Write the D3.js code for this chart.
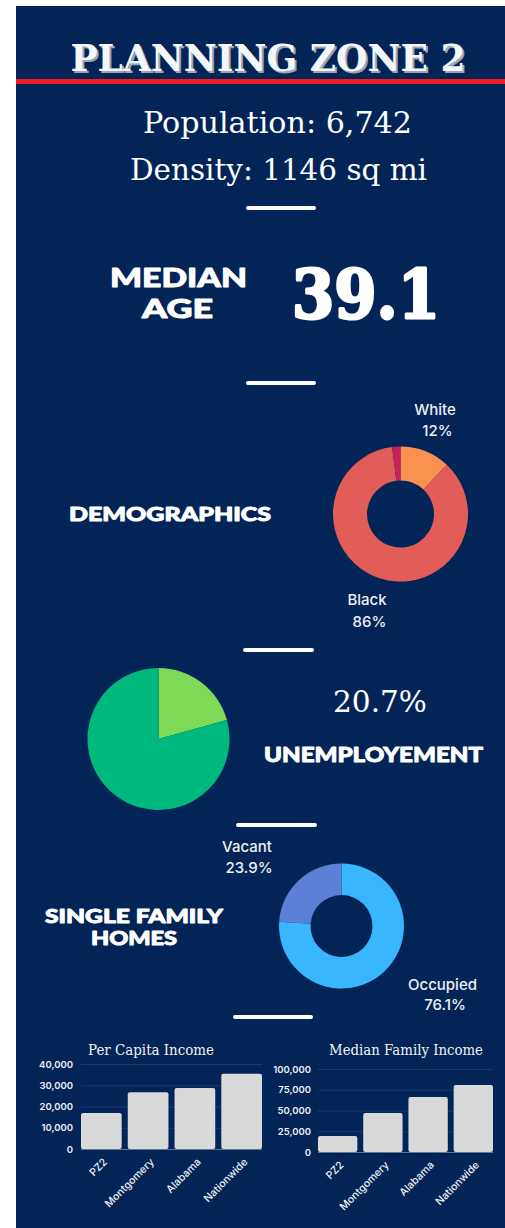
<!DOCTYPE html>
<html>
<head>
<meta charset="utf-8">
<script src="https://cdn.jsdelivr.net/npm/d3@7"></script>
<style>
  html, body { margin: 0; padding: 0; background: #ffffff; }
  svg { display: block; }
</style>
</head>
<body>
<svg id="chart" width="505" height="1228"></svg>
<script>
// ---- data ----
const zoneTitle = "PLANNING ZONE 2";
const populationText = "Population: 6,742";
const densityText = "Density: 1146 sq mi";
const medianAge = "39.1";

const raceLabels = ["White", "Black", "Other"];
const raceValues = [12, 86, 2];

const employmentLabels = ["Unemployed", "Employed"];
const employmentValues = [20.7, 79.3];

const housingLabels = ["Occupied", "Vacant"];
const housingValues = [76.1, 23.9];

const incomeCategories = ["PZ2", "Montgomery", "Alabama", "Nationwide"];
const perCapitaValues = [16900, 26750, 28650, 35400];
const perCapitaTicks = [0, 10000, 20000, 30000, 40000];
const familyValues = [19300, 46900, 66300, 80600];
const familyTicks = [0, 25000, 50000, 75000, 100000];

// ---- setup ----
const NAVY = "#032457";
const WHITE = "#ffffff";
const SERIF = "'DejaVu Serif', serif";
const SANS = "Lato, 'Noto Sans', sans-serif";
const LABEL = "Inter, 'Noto Sans', sans-serif";

const svg = d3.select("#chart");

svg.append("rect")
  .attr("x", 16).attr("y", 6)
  .attr("width", 489).attr("height", 1222)
  .attr("fill", NAVY);

// text helper: fixed advance width keeps the lettering to its set measure
function txt(str, x, y, o) {
  const t = svg.append("text")
    .attr("x", x).attr("y", y)
    .attr("text-anchor", o.anchor || "middle")
    .attr("font-family", o.family)
    .attr("font-size", o.size)
    .attr("font-weight", o.weight || 400)
    .attr("fill", o.fill || WHITE)
    .text(str);
  if (o.len) t.attr("textLength", o.len).attr("lengthAdjust", "spacingAndGlyphs");
  if (o.stroke) t.attr("stroke", o.fill || WHITE).attr("stroke-width", o.stroke).attr("stroke-linejoin", "round");
  return t;
}

function divider(x1, x2, y) {
  svg.append("line")
    .attr("x1", x1).attr("x2", x2).attr("y1", y).attr("y2", y)
    .attr("stroke", WHITE).attr("stroke-width", 4).attr("stroke-linecap", "round");
}

// ---- header ----
txt(zoneTitle, 270, 73, { family: SERIF, size: 38, weight: 700, len: 395, fill: "#9aa6b8" });
txt(zoneTitle, 268, 71, { family: SERIF, size: 38, weight: 700, len: 395, fill: "#f4f6f8" });

svg.append("rect")
  .attr("x", 16).attr("y", 79).attr("width", 489).attr("height", 5)
  .attr("fill", "#ee1c25");

txt(populationText, 277.5, 133, { family: SERIF, size: 29, len: 269 });
txt(densityText, 278.5, 180, { family: SERIF, size: 29, len: 297 });

divider(248, 314, 208);

// ---- median age ----
const HEAD = { family: SANS, weight: 900, stroke: 0.9 };
txt("MEDIAN", 178.5, 287, { ...HEAD, size: 26, len: 137 });
txt("AGE", 177.5, 318, { ...HEAD, size: 26, len: 71 });
txt(medianAge, 366, 318, { family: SERIF, size: 68, weight: 700, len: 148, stroke: 3 });

divider(248, 314, 383);

// ---- demographics donut ----
txt("DEMOGRAPHICS", 170, 521, { ...HEAD, size: 19, len: 202 });

const pie = d3.pie().sort(null).value(d => d);

const raceColor = d3.scaleOrdinal().domain(raceLabels).range(["#fa9150", "#e35d58", "#c2245a"]);
const raceArc = d3.arc().innerRadius(33.5).outerRadius(67.5);
svg.append("g").attr("transform", "translate(400.5,514)")
  .selectAll("path").data(pie(raceValues)).join("path")
  .attr("d", raceArc)
  .attr("fill", (d, i) => raceColor(raceLabels[i]));

const LBL = { family: LABEL, size: 15, weight: 500, fill: "#eef0f4" };
txt(raceLabels[0], 435, 415, LBL);
txt(raceValues[0] + "%", 437.5, 436, LBL);
txt(raceLabels[1], 367, 605, LBL);
txt(raceValues[1] + "%", 369.5, 627, LBL);

divider(245, 312, 650);

// ---- unemployment pie ----
const empColor = d3.scaleOrdinal().domain(employmentLabels).range(["#7ed957", "#00b97f"]);
const empArc = d3.arc().innerRadius(0).outerRadius(71);
svg.append("g").attr("transform", "translate(158.5,739)")
  .selectAll("path").data(pie(employmentValues)).join("path")
  .attr("d", empArc)
  .attr("fill", (d, i) => empColor(employmentLabels[i]));

txt(employmentValues[0] + "%", 380, 712, { family: SERIF, size: 29, len: 94 });
txt("UNEMPLOYEMENT", 373.5, 762, { ...HEAD, size: 21, len: 219 });

divider(238, 315, 825);

// ---- housing donut ----
txt("SINGLE FAMILY", 134, 923, { ...HEAD, size: 18.5, len: 178 });
txt("HOMES", 134, 945, { ...HEAD, size: 18.5, len: 86 });

const houseColor = d3.scaleOrdinal().domain(housingLabels).range(["#38b6ff", "#5c80d5"]);
const houseArc = d3.arc().innerRadius(31).outerRadius(62.5);
svg.append("g").attr("transform", "translate(341.5,926)")
  .selectAll("path").data(pie(housingValues)).join("path")
  .attr("d", houseArc)
  .attr("fill", (d, i) => houseColor(housingLabels[i]));

txt(housingLabels[1], 247, 852, LBL);
txt(housingValues[1] + "%", 249, 873, LBL);
txt(housingLabels[0], 442.5, 990, LBL);
txt(housingValues[0] + "%", 445, 1010, LBL);

divider(235, 311, 1017);

// ---- income bar charts ----
function barChart(cfg) {
  const g = svg.append("g");
  const x = d3.scaleBand().domain(incomeCategories).range([cfg.x0, cfg.x1]).paddingInner(0.13).paddingOuter(0);
  const y = d3.scaleLinear().domain([0, cfg.ticks[cfg.ticks.length - 1]]).range([cfg.yBase, cfg.yTop]);

  txt(cfg.title, cfg.titleX, 1055, { family: SERIF, size: 14, len: cfg.titleLen, fill: "#f2f2f2" });

  // grid
  const grid = g.append("g").attr("transform", `translate(${cfg.x0},0)`)
    .call(d3.axisLeft(y).tickValues(cfg.ticks.slice(1)).tickSize(-(cfg.x1 - cfg.x0)).tickFormat(""));
  grid.select(".domain").remove();
  grid.selectAll("line").attr("stroke", "#1a3a6c").attr("stroke-width", 1);

  // y axis labels
  const ya = g.append("g").attr("transform", `translate(${cfg.x0},0)`)
    .call(d3.axisLeft(y).tickValues(cfg.ticks).tickSize(0).tickPadding(cfg.pad).tickFormat(d3.format(",")));
  ya.select(".domain").remove();
  ya.selectAll("text")
    .attr("fill", "#eef0f4").attr("font-family", LABEL).attr("font-size", 9.5).attr("font-weight", 600);

  // bars
  g.append("g").selectAll("rect").data(cfg.values).join("rect")
    .attr("x", (d, i) => x(incomeCategories[i]))
    .attr("y", d => y(d))
    .attr("width", x.bandwidth())
    .attr("height", d => y(0) - y(d))
    .attr("rx", 2)
    .attr("fill", "#d9d9d9");

  // baseline
  g.append("line")
    .attr("x1", cfg.x0).attr("x2", cfg.x1)
    .attr("y1", y(0) + 0.5).attr("y2", y(0) + 0.5)
    .attr("stroke", "#5d7398").attr("stroke-width", 1);

  // category labels
  const xa = g.append("g").attr("transform", `translate(0,${cfg.yBase})`)
    .call(d3.axisBottom(x).tickSize(0).tickPadding(0));
  xa.select(".domain").remove();
  xa.selectAll("text")
    .attr("fill", "#eef0f4").attr("font-family", LABEL).attr("font-size", 10.5).attr("font-weight", 500)
    .attr("text-anchor", "end")
    .attr("dy", "0.35em")
    .attr("transform", "translate(4,11) rotate(-45)");
}

barChart({
  title: "Per Capita Income", titleX: 151, titleLen: 126,
  values: perCapitaValues, ticks: perCapitaTicks,
  x0: 81, x1: 262, yBase: 1149, yTop: 1064, pad: 8
});

barChart({
  title: "Median Family Income", titleX: 406, titleLen: 154,
  values: familyValues, ticks: familyTicks,
  x0: 318, x1: 493, yBase: 1152, yTop: 1069, pad: 7
});
</script>
</body>
</html>
